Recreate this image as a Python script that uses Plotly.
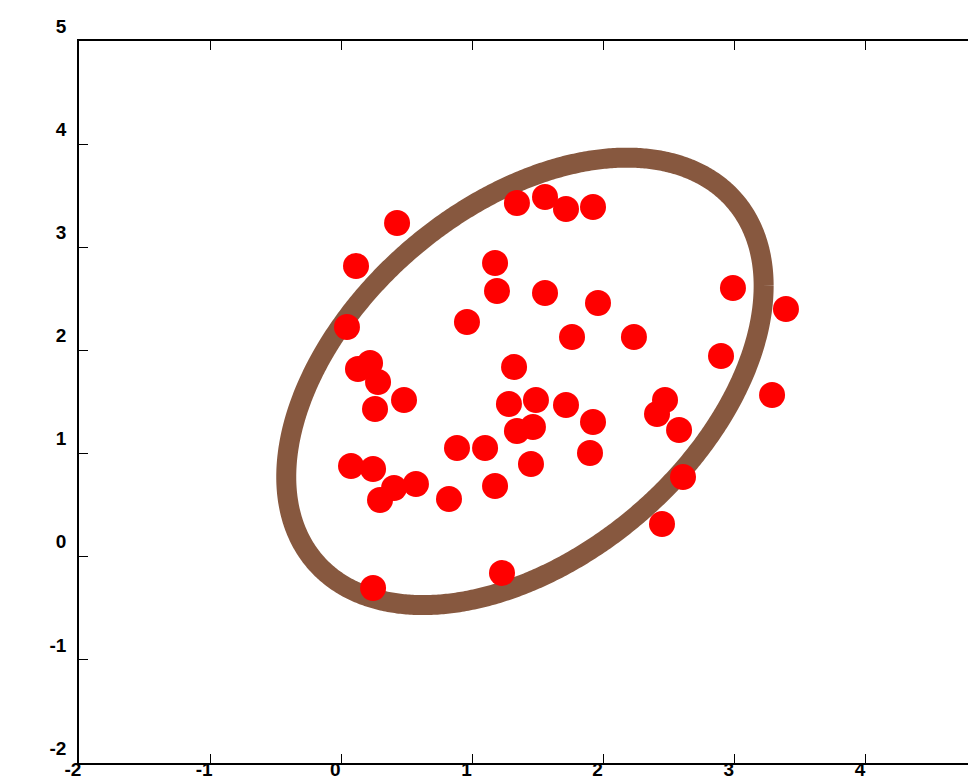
import numpy as np
import plotly.graph_objects as go

# Scatter points
point_x = [0.425, 0.112, 0.043, 1.339, 1.553, 1.713, 1.919, 1.172, 1.187, 1.553,
           1.957, 0.958, 1.759, 2.231, 0.127, 0.219, 0.280, 0.257, 0.478, 1.317,
           1.278, 1.484, 1.713, 1.919, 1.461, 1.339, 2.986, 3.390, 2.895, 3.284,
           2.468, 2.407, 2.575, 0.882, 1.096, 1.446, 1.896, 0.074, 0.242, 0.402,
           0.569, 0.295, 0.821, 1.172, 0.242, 1.225, 2.605, 2.445]
point_y = [3.235, 2.819, 2.227, 3.429, 3.488, 3.371, 3.391, 2.848, 2.576, 2.557,
           2.460, 2.276, 2.130, 2.130, 1.820, 1.878, 1.694, 1.432, 1.519, 1.839,
           1.481, 1.519, 1.471, 1.306, 1.258, 1.219, 2.605, 2.402, 1.946, 1.568,
           1.519, 1.384, 1.228, 1.054, 1.054, 0.899, 1.005, 0.879, 0.850, 0.666,
           0.705, 0.550, 0.559, 0.685, -0.303, -0.158, 0.773, 0.317]

# Confidence ellipse parameters
ellipse_center = [1.40, 1.70]
ellipse_cov = [[3.312, 1.685], [1.685, 4.705]]

x_tickvals = [-2, -1, 0, 1, 2, 3, 4]
y_tickvals = [-2, -1, 0, 1, 2, 3, 4, 5]

L = np.linalg.cholesky(np.array(ellipse_cov))
t = np.linspace(0, 2 * np.pi * 1.03, 740)
circ = np.vstack([np.cos(t), np.sin(t)])
ell = L @ circ
ex = ellipse_center[0] + ell[0]
ey = ellipse_center[1] + ell[1]

fig = go.Figure()
fig.add_trace(go.Scatter(x=ex, y=ey, mode="lines",
                         line=dict(color="#87583f", width=20, simplify=False),
                         hoverinfo="skip", showlegend=False))
fig.add_trace(go.Scatter(x=point_x, y=point_y, mode="markers",
                         marker=dict(color="#ff0000", size=26, line=dict(width=0)),
                         showlegend=False))

font = dict(family="Liberation Sans, Arial, sans-serif", size=19, color="black")

fig.update_layout(
    width=968, height=770,
    margin=dict(l=71, r=0, t=33, b=15, autoexpand=False),
    paper_bgcolor="white", plot_bgcolor="white",
    showlegend=False,
)
fig.update_xaxes(
    range=[-2, 4.839], tickvals=x_tickvals, ticktext=[f"<b>{v}</b>" for v in x_tickvals],
    showgrid=False, zeroline=False, showline=True, linecolor="black", linewidth=1.5,
    mirror="ticks", ticks="inside", ticklen=9, tickwidth=1, tickcolor="black",
    tickfont=font, ticklabelshift=-6, ticklabelstandoff=-12, automargin=False,
)
fig.update_yaxes(
    range=[-2, 5], tickvals=y_tickvals, ticktext=[f"<b>{v}</b>" for v in y_tickvals],
    showgrid=False, zeroline=False, showline=True, linecolor="black", linewidth=1.5,
    mirror=False, ticks="inside", ticklen=9, tickwidth=1, tickcolor="black",
    tickfont=font, ticklabelshift=-15, ticklabelstandoff=7, automargin=False,
)

fig.write_html("out.html")
